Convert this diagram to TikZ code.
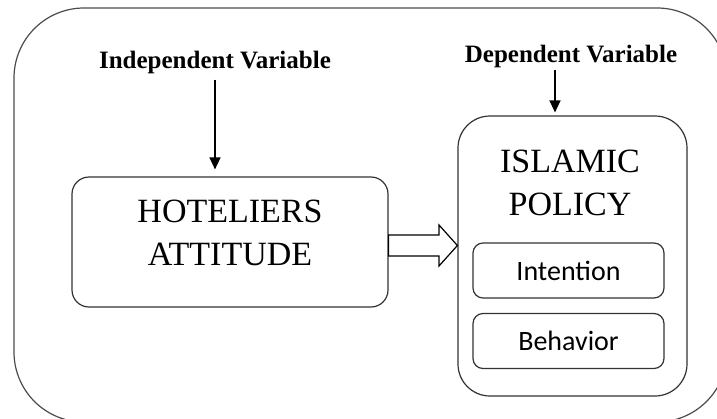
\documentclass[tikz,border=0pt]{standalone}
\usepackage{fontspec}
\setmainfont{Liberation Serif}
\newfontfamily\calibri{Carlito}
\usetikzlibrary{arrows.meta}

\begin{document}
\begin{tikzpicture}[x=1pt,y=-1pt,
    frame/.style={draw=black!80, line width=1.2pt, rounded corners=#1},
    varlabel/.style={font=\fontsize{25}{30}\selectfont\bfseries, inner sep=2pt, anchor=base},
    bigtext/.style={font=\fontsize{34}{43}\selectfont, align=center, inner sep=0pt, anchor=north},
    down/.style={-{Triangle[length=12pt,width=11pt]}, line width=1.3pt},
]
    \useasboundingbox (0,0) rectangle (717,418);
    \clip (0,0) rectangle (717,418);
    \draw [draw=black!70, line width=1.2pt, rounded corners=70pt] (14,8) rectangle (727,422);

    \node [varlabel] (indep) at (215,68) {Independent Variable};
    \node [varlabel] (dep) at (571,62) {Dependent Variable};

    \node [frame=17pt, minimum width=316pt, minimum height=130pt] (hotel) at (230,242) {};
    \node [bigtext] (hoteltxt) at (230,200) {HOTELIERS\\ATTITUDE};

    \node [frame=32pt, minimum width=229pt, minimum height=280pt] (policy) at (572.5,256) {};
    \node [bigtext] (policytxt) at (570,150) {ISLAMIC\\POLICY};

    \foreach \t/\y [count=\n] in {Intention/270.5, Behavior/341}
        \node [frame=10pt, minimum width=191pt, minimum height=55pt, font=\calibri\fontsize{28}{34}\selectfont] (part\n) at (568.5,\y) {\t};

    \draw [down, shorten <=4pt, shorten >=7pt] (indep.south) -- (indep.south |- hotel.north);
    \draw [down, shorten >=3pt] ([xshift=-16pt]dep.south) -- ([xshift=-16pt]dep.south |- policy.north);

    \draw [line width=1.2pt] (hotel.east |- 0,235) -- (439,235) -- (439,225) -- (policy.west |- 0,245.5) -- (439,266) -- (439,256) -- (hotel.east |- 0,256) -- cycle;
\end{tikzpicture}
\end{document}
